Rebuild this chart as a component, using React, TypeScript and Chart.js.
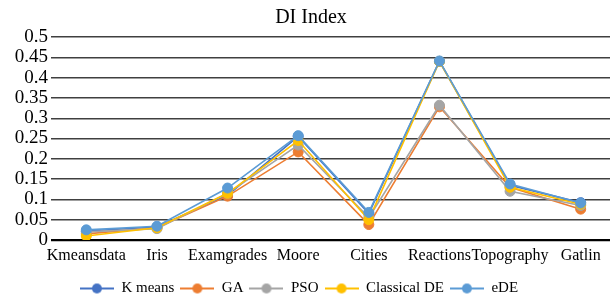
import { useEffect, useRef } from 'react';
import { Chart, registerables } from 'chart.js';

Chart.register(...registerables);

const categories = ['Kmeansdata', 'Iris', 'Examgrades', 'Moore', 'Cities', 'Reactions', 'Topography', 'Gatlin'];
const kMeans = [0.022, 0.032, 0.11, 0.255, 0.065, 0.44, 0.135, 0.092];
const ga = [0.015, 0.03, 0.108, 0.217, 0.038, 0.328, 0.13, 0.076];
const pso = [0.02, 0.028, 0.115, 0.234, 0.055, 0.332, 0.12, 0.085];
const classicalDE = [0.01, 0.03, 0.115, 0.245, 0.05, 0.44, 0.13, 0.088];
const eDE = [0.025, 0.034, 0.128, 0.257, 0.068, 0.441, 0.138, 0.091];
const seriesNames = ['K means', 'GA', 'PSO', 'Classical DE', 'eDE'];
const seriesValues = [kMeans, ga, pso, classicalDE, eDE];
const seriesColors = ['#4472C4', '#ED7D31', '#A5A5A5', '#FFC000', '#5B9BD5'];

const FONT = "'Liberation Serif', 'Times New Roman', serif";

function legendIcon(color: string) {
  const c = document.createElement('canvas');
  c.width = 34;
  c.height = 12;
  const g = c.getContext('2d')!;
  g.strokeStyle = color;
  g.lineWidth = 2;
  g.beginPath();
  g.moveTo(0, 6);
  g.lineTo(34, 6);
  g.stroke();
  g.fillStyle = color;
  g.beginPath();
  g.arc(17, 6, 5, 0, Math.PI * 2);
  g.fill();
  return c;
}

const legendShift = {
  id: 'legendShift',
  afterLayout(chart: any) {
    const lg = chart.legend;
    if (!lg) return;
    const dx = -12;
    const dy = 9;
    lg.left += dx;
    lg.right += dx;
    lg.top += dy;
    lg.bottom += dy;
  },
};

export default function App() {
  const ref = useRef<HTMLCanvasElement | null>(null);

  useEffect(() => {
    if (!ref.current) return;
    const icons = seriesColors.map(legendIcon);
    const chart = new Chart(ref.current, {
      type: 'line',
      data: {
        labels: categories,
        datasets: seriesNames.map((name, i) => ({
          label: name,
          data: seriesValues[i],
          borderColor: seriesColors[i],
          backgroundColor: seriesColors[i],
          pointBackgroundColor: seriesColors[i],
          pointBorderColor: seriesColors[i],
          pointRadius: 5,
          pointBorderWidth: 1,
          borderWidth: 1.6,
          tension: 0,
          fill: false,
          order: seriesNames.length - i,
        })),
      },
      options: {
        responsive: false,
        animation: false,
        events: [],
        layout: { padding: { top: 0, left: 0, right: 0, bottom: 2 } },
        plugins: {
          title: {
            display: true,
            text: 'DI Index',
            color: '#000',
            font: { family: FONT, size: 20, weight: 'normal' },
            padding: { top: 6, bottom: 7 },
          },
          legend: {
            display: true,
            position: 'bottom',
            labels: {
              usePointStyle: true,
              pointStyleWidth: 34,
              color: '#000',
              padding: 6,
              font: { family: FONT, size: 15 },
              generateLabels: () =>
                seriesNames.map((name, i) => ({
                  text: name,
                  pointStyle: icons[i] as any,
                  fillStyle: seriesColors[i],
                  strokeStyle: seriesColors[i],
                  lineWidth: 0,
                  hidden: false,
                  datasetIndex: i,
                  fontColor: '#000',
                })),
            },
          },
          tooltip: { enabled: false },
        },
        scales: {
          x: {
            offset: true,
            grid: { display: false, drawTicks: false, offset: true },
            border: { display: false },
            ticks: {
              autoSkip: false,
              maxRotation: 0,
              minRotation: 0,
              padding: 6,
              color: '#000',
              font: { family: FONT, size: 16 },
            },
            afterFit: (s: any) => {
              s.height = 26;
            },
          },
          y: {
            min: 0,
            max: 0.5,
            border: { display: false },
            grid: {
              drawTicks: false,
              color: (ctx: any) => (ctx.tick && ctx.tick.value === 0 ? '#000' : '#404040'),
              lineWidth: (ctx: any) => (ctx.tick && ctx.tick.value === 0 ? 2.2 : 1.4),
            },
            ticks: {
              stepSize: 0.05,
              autoSkip: false,
              padding: 3,
              color: '#000',
              font: { family: FONT, size: 19 },
              callback: (v: any) => String(Number(Number(v).toFixed(2))),
            },
            afterFit: (s: any) => {
              s.width = 51;
            },
          },
        },
      },
      plugins: [legendShift],
    });
    return () => chart.destroy();
  }, []);

  return (
    <div style={{ position: 'fixed', left: 0, top: 0, width: 610, height: 299, overflow: 'hidden', background: '#fff' }}>
      <canvas ref={ref} width={622} height={299} style={{ width: 622, height: 299, display: 'block' }} />
    </div>
  );
}
